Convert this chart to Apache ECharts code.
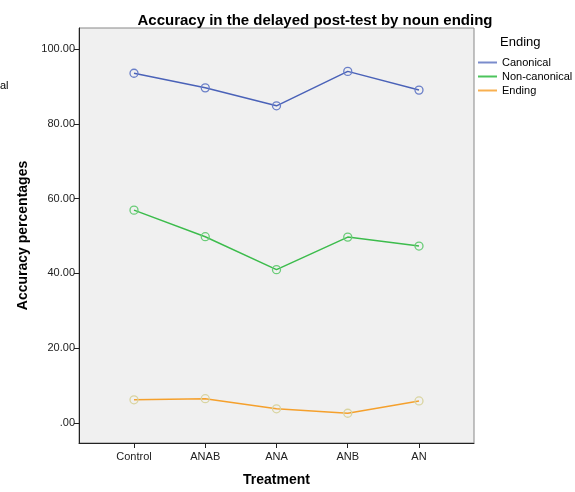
<!DOCTYPE html>
<html><head><meta charset="utf-8">
<script src="https://cdn.jsdelivr.net/npm/echarts@6/dist/echarts.min.js"></script>
<style>html,body{margin:0;padding:0;background:#fff}#c{width:575px;height:492px}</style>
</head><body><div id="c"></div>
<script>
const categories = ['Control', 'ANAB', 'ANA', 'ANB', 'AN'];
const canonical = [93.5, 89.6, 84.8, 94.0, 89.0];
const nonCanonical = [56.9, 49.8, 41.0, 49.7, 47.3];
const ending = [6.2, 6.5, 3.8, 2.6, 5.9];
const yTicks = [0, 20, 40, 60, 80, 100];
const seriesNames = ['Canonical', 'Non-canonical', 'Ending'];

const colors = ['#4a62b8', '#3cbc4c', '#f5a02c'];
const markerColors = ['#6a7fc8', '#6acc78', '#d9d4a0'];
const legendColors = ['#7a8ccc', '#4cc45c', '#f8b050'];
const font = 'Arial, "Liberation Sans", sans-serif';

function pts(arr){ return arr.map((v,i)=>[i,v]); }

const chart = echarts.init(document.getElementById('c'), null, {renderer:'canvas'});
const dataSets = [canonical, nonCanonical, ending];
chart.setOption({
  animation: false,
  backgroundColor: '#fff',
  title: {
    text: 'Accuracy in the delayed post-test by noun ending',
    left: 310, top: 8, textAlign: 'center',
    textStyle: {fontFamily: font, fontSize: 15, fontWeight: 'bold', color: '#000'}
  },
  legend: {
    orient: 'vertical', left: 473, top: 52, itemWidth: 19, itemHeight: 2, itemGap: 3,
    icon: 'rect',
    textStyle: {fontFamily: font, fontSize: 11, color: '#000'},
    data: seriesNames.map((n,k) => ({name: n, itemStyle: {color: legendColors[k], borderColor: legendColors[k], borderWidth: 0}}))
  },
  grid: {left: 79, right: 101, top: 28, bottom: 49, outerBoundsMode: 'none', show: true, backgroundColor: '#f0f0f0', borderColor: '#888', borderWidth: 1},
  xAxis: {
    type: 'value', min: -0.772, max: 4.772,
    name: 'Treatment', nameLocation: 'middle', nameGap: 30,
    nameTextStyle: {fontFamily: font, fontSize: 14, fontWeight: 'bold', color: '#000'},
    axisLine: {show: true, onZero: false, lineStyle: {color: '#222', width: 1}},
    axisTick: {show: true, length: 5, customValues: [0,1,2,3,4], lineStyle: {color: '#222'}},
    axisLabel: {customValues: [0,1,2,3,4], formatter: v => categories[Math.round(v)], fontFamily: font, fontSize: 11, color: '#222', margin: 8},
    splitLine: {show: false}
  },
  yAxis: {
    type: 'value', min: -5.35, max: 105.6,
    name: 'Accuracy percentages', nameLocation: 'middle', nameGap: 48,
    nameTextStyle: {fontFamily: font, fontSize: 14, fontWeight: 'bold', color: '#000'},
    axisLine: {show: true, onZero: false, lineStyle: {color: '#222', width: 1}},
    axisTick: {show: true, length: 5, customValues: yTicks, lineStyle: {color: '#222'}},
    axisLabel: {customValues: yTicks, formatter: v => v === 0 ? '.00' : v.toFixed(2), fontFamily: font, fontSize: 11, color: '#222', margin: 4},
    splitLine: {show: false}
  },
  graphic: [
    {type: 'text', left: 500, top: 36, style: {text: 'Ending', font: '13px ' + font, fill: '#000'}},
    {type: 'text', left: 0, top: 80, style: {text: 'al', font: '11px ' + font, fill: '#000'}}
  ],
  series: dataSets.map((d, k) => ({
    name: seriesNames[k], type: 'line', data: pts(d),
    symbol: 'circle', symbolSize: 8,
    itemStyle: {color: 'rgba(0,0,0,0)', borderColor: markerColors[k], borderWidth: 1.3},
    lineStyle: {color: colors[k], width: 1.5},
    emphasis: {disabled: true}
  }))
});
</script></body></html>
